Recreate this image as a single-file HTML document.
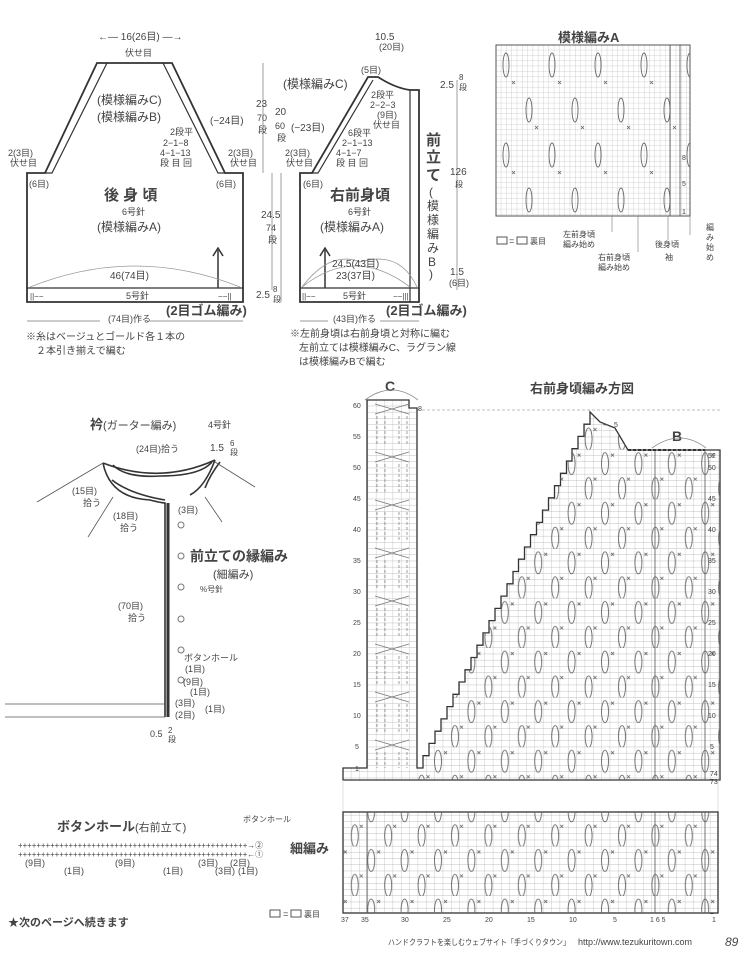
<!DOCTYPE html>
<html><head><meta charset="utf-8"><style>
html,body{margin:0;padding:0;background:#fff}
svg{display:block}
text{font-family:"Liberation Sans","Noto Sans CJK JP",sans-serif;fill:#444}
</style></head><body>
<svg width="750" height="963" viewBox="0 0 750 963" xmlns="http://www.w3.org/2000/svg">
<defs>
<pattern id="g" x="343" y="400" width="8.35" height="6.2" patternUnits="userSpaceOnUse">
<rect width="8.35" height="6.2" fill="#fff"/><path d="M8.35 0V6.2M0 6.2H8.35" stroke="#aaa" stroke-width="0.6" fill="none"/></pattern>
<pattern id="ov" x="430" y="400" width="33.4" height="49.6" patternUnits="userSpaceOnUse">
<ellipse cx="8" cy="14" rx="3.5" ry="11" fill="none" stroke="#666" stroke-width="0.9"/>
<ellipse cx="25" cy="39" rx="3.5" ry="11" fill="none" stroke="#666" stroke-width="0.9"/>
<path d="M14 4l3 3M17 4l-3 3M30 28l3 3M33 28l-3 3" stroke="#666" stroke-width="0.8"/></pattern>
<pattern id="ga" x="496" y="45" width="5.3" height="5.3" patternUnits="userSpaceOnUse">
<rect width="5.3" height="5.3" fill="#fff"/><path d="M5.3 0V5.3M0 5.3H5.3" stroke="#aaa" stroke-width="0.5" fill="none"/></pattern>
<pattern id="ova" x="496" y="45" width="46" height="90" patternUnits="userSpaceOnUse">
<ellipse cx="10" cy="20" rx="3" ry="12" fill="none" stroke="#666" stroke-width="0.9"/>
<ellipse cx="33" cy="65" rx="3" ry="12" fill="none" stroke="#666" stroke-width="0.9"/>
<path d="M16 36l3 3M19 36l-3 3M39 81l3 3M42 81l-3 3" stroke="#666" stroke-width="0.8"/></pattern>
<pattern id="cx" x="367" y="400" width="50" height="48" patternUnits="userSpaceOnUse">
<path d="M8 4L42 14M8 14L42 4" stroke="#777" stroke-width="0.9" fill="none"/>
<path d="M10 16V44M40 16V44M18 16V44M32 16V44" stroke="#888" stroke-width="0.8" stroke-dasharray="3 2" fill="none"/></pattern>
</defs>

<!-- BACK -->
<g stroke="#333" stroke-width="1.8" fill="none">
<path d="M27 173H45L97 63H172L225 173H243V302H27Z"/>
<path d="M45 173H52L107 63M225 173H218L163 63" stroke-width="1.2"/>
<path d="M27 288H243" stroke-width="1.2"/>
<path d="M218 288V250" stroke-width="1.5"/>
</g>
<path d="M213 256L218 248L223 256" fill="none" stroke="#333" stroke-width="1.5"/>
<path d="M30 287Q135 245 240 287" fill="none" stroke="#999" stroke-width="0.8"/>
<text x="98" y="40" font-size="10">←— 16(26目) —→</text>
<text x="125" y="56" font-size="9">伏せ目</text>
<text x="97" y="104" font-size="12">(模様編みC)</text>
<text x="97" y="121" font-size="12">(模様編みB)</text>
<text x="210" y="124" font-size="10">(−24目)</text>
<text x="170" y="135" font-size="9">2段平</text>
<text x="163" y="146" font-size="9">2−1−8</text>
<text x="160" y="156" font-size="9">4−1−13</text>
<text x="160" y="166" font-size="9">段 目 回</text>
<text x="8" y="156" font-size="9">2(3目)</text><text x="10" y="166" font-size="9">伏せ目</text>
<text x="228" y="156" font-size="9">2(3目)</text><text x="230" y="166" font-size="9">伏せ目</text>
<text x="29" y="187" font-size="9">(6目)</text><text x="216" y="187" font-size="9">(6目)</text>
<text x="104" y="200" font-size="15" font-weight="bold" fill="#333">後 身 頃</text>
<text x="122" y="215" font-size="9">6号針</text>
<text x="97" y="231" font-size="12">(模様編みA)</text>
<text x="110" y="279" font-size="10">46(74目)</text>
<text x="126" y="299" font-size="9">5号針</text>
<text x="30" y="299" font-size="8">||−−</text><text x="218" y="299" font-size="8">−−||</text>
<text x="166" y="315" font-size="13" font-weight="bold" fill="#333">(2目ゴム編み)</text>
<text x="108" y="322" font-size="9">(74目)作る</text>
<path d="M27 321H100M150 321H243" stroke="#777" stroke-width="0.7"/>
<text x="26" y="340" font-size="10">※糸はベージュとゴールド各１本の</text>
<text x="36" y="354" font-size="10">２本引き揃えで編む</text>

<!-- middle dims -->
<g stroke="#777" stroke-width="0.7"><path d="M263 63V173M281 173V302M272 173V290"/></g>
<text x="256" y="107" font-size="10">23</text><text x="257" y="121" font-size="9">70</text><text x="258" y="133" font-size="9">段</text>
<text x="275" y="115" font-size="10">20</text><text x="275" y="129" font-size="9">60</text><text x="277" y="141" font-size="9">段</text>
<text x="291" y="131" font-size="10">(−23目)</text>
<text x="261" y="218" font-size="10">24.5</text><text x="266" y="231" font-size="9">74</text><text x="268" y="243" font-size="9">段</text>
<text x="256" y="298" font-size="10">2.5</text><text x="273" y="292" font-size="8">8</text><text x="273" y="302" font-size="8">段</text>

<!-- FRONT -->
<g stroke="#333" stroke-width="1.8" fill="none">
<path d="M300 173H312L368 77H378Q395 88 410 90H419V302H300Z"/>
<path d="M312 173H318L373 80" stroke-width="1.2"/>
<path d="M410 90V302M300 288H419" stroke-width="1.2"/>
<path d="M325 288V250" stroke-width="1.5"/>
</g>
<path d="M320 256L325 248L330 256" fill="none" stroke="#333" stroke-width="1.5"/>
<path d="M302 287Q330 250 360 262M302 287Q355 245 410 287M360 262Q400 250 417 287" fill="none" stroke="#999" stroke-width="0.8"/>
<text x="375" y="40" font-size="10">10.5</text><text x="379" y="50" font-size="9">(20目)</text>
<text x="361" y="73" font-size="9">(5目)</text>
<text x="283" y="88" font-size="12">(模様編みC)</text>
<text x="371" y="98" font-size="9">2段平</text>
<text x="370" y="108" font-size="9">2−2−3</text>
<text x="377" y="118" font-size="9">(9目)</text>
<text x="373" y="128" font-size="9">伏せ目</text>
<text x="348" y="136" font-size="9">6段平</text>
<text x="342" y="146" font-size="9">2−1−13</text>
<text x="336" y="156" font-size="9">4−1−7</text>
<text x="336" y="166" font-size="9">段 目 回</text>
<text x="285" y="156" font-size="9">2(3目)</text><text x="286" y="166" font-size="9">伏せ目</text>
<text x="303" y="187" font-size="9">(6目)</text>
<text x="330" y="200" font-size="15" font-weight="bold" fill="#333">右前身頃</text>
<text x="348" y="215" font-size="9">6号針</text>
<text x="320" y="231" font-size="12">(模様編みA)</text>
<text x="332" y="267" font-size="10">24.5(43目)</text>
<text x="336" y="279" font-size="10">23(37目)</text>
<text x="343" y="299" font-size="9">5号針</text>
<text x="302" y="299" font-size="8">||−−</text><text x="393" y="299" font-size="8">−−|||</text>
<text x="386" y="315" font-size="13" font-weight="bold" fill="#333">(2目ゴム編み)</text>
<text x="333" y="322" font-size="9">(43目)作る</text>
<path d="M300 321H328M380 321H419" stroke="#777" stroke-width="0.7"/>
<g font-size="15" font-weight="bold" fill="#333"><text x="426" y="145">前</text><text x="426" y="162">立</text><text x="426" y="180">て</text></g>
<g font-size="12"><text x="429" y="196">(</text><text x="427" y="210">模</text><text x="427" y="224">様</text><text x="427" y="238">編</text><text x="427" y="252">み</text><text x="428" y="266">B</text><text x="429" y="278">)</text></g>
<path d="M457 80V290" stroke="#777" stroke-width="0.7"/>
<text x="440" y="88" font-size="10">2.5</text><text x="459" y="80" font-size="8">8</text><text x="459" y="90" font-size="8">段</text>
<text x="450" y="175" font-size="10">126</text><text x="455" y="187" font-size="8">段</text>
<text x="450" y="275" font-size="10">1.5</text><text x="449" y="286" font-size="9">(6目)</text>
<text x="290" y="337" font-size="10">※左前身頃は右前身頃と対称に編む</text>
<text x="299" y="351" font-size="10">左前立ては模様編みC、ラグラン線</text>
<text x="299" y="365" font-size="10">は模様編みBで編む</text>

<!-- Chart A -->
<text x="558" y="42" font-size="13" font-weight="bold" fill="#333">模様編みA</text>
<rect x="496" y="45" width="194" height="171" fill="url(#ga)" stroke="#555"/>
<rect x="496" y="45" width="194" height="171" fill="url(#ova)"/>
<path d="M670 45V216M680 45V216" stroke="#555" stroke-width="0.8"/>
<text x="682" y="160" font-size="7">8</text><text x="682" y="186" font-size="7">5</text><text x="682" y="214" font-size="7">1</text>
<rect x="497" y="237" width="10" height="7" fill="none" stroke="#555"/><text x="509" y="244" font-size="9">=</text>
<rect x="517" y="237" width="10" height="7" fill="none" stroke="#555"/><text x="530" y="244" font-size="8">裏目</text>
<text x="563" y="237" font-size="8">左前身頃</text><text x="563" y="247" font-size="8">編み始め</text>
<text x="598" y="260" font-size="8">右前身頃</text><text x="598" y="270" font-size="8">編み始め</text>
<text x="655" y="247" font-size="8">後身頃</text><text x="665" y="260" font-size="8">袖</text>
<text x="706" y="230" font-size="8">編</text><text x="706" y="240" font-size="8">み</text><text x="706" y="250" font-size="8">始</text><text x="706" y="260" font-size="8">め</text>
<path d="M612 216V232M638 216V252M668 216V240M690 216V235" stroke="#777" stroke-width="0.6"/>

<!-- Collar -->
<text x="90" y="429" font-size="13" font-weight="bold" fill="#333">衿<tspan font-size="11" font-weight="normal">(ガーター編み)</tspan></text>
<text x="208" y="428" font-size="9">4号針</text>
<text x="136" y="452" font-size="9">(24目)拾う</text>
<text x="210" y="451" font-size="10">1.5</text><text x="230" y="446" font-size="8">6</text><text x="230" y="455" font-size="8">段</text>
<g stroke="#333" fill="none" stroke-width="1.6">
<path d="M103 463Q110 498 150 500Q162 503 165 503V717"/>
<path d="M113 465Q125 478 160 476Q200 476 212 462"/>
<path d="M103 463Q160 485 215 460M112 480Q130 494 165 500"/>
<path d="M190 495Q205 487 215 460M205 488Q210 475 220 462"/>
<path d="M168 503V717" stroke-width="3"/>
</g>
<path d="M37 502L103 463M215 462L255 487M88 537L113 497M205 497L222 522M5 704H165M5 717H165" stroke="#555" stroke-width="0.8" fill="none"/>
<text x="72" y="494" font-size="9">(15目)</text><text x="83" y="506" font-size="9">拾う</text>
<text x="113" y="519" font-size="9">(18目)</text><text x="120" y="531" font-size="9">拾う</text>
<text x="178" y="513" font-size="9">(3目)</text>
<g fill="none" stroke="#777"><circle cx="181" cy="525" r="3"/><circle cx="181" cy="556" r="3"/><circle cx="181" cy="587" r="3"/><circle cx="181" cy="619" r="3"/><circle cx="181" cy="650" r="3"/><circle cx="181" cy="680" r="3"/></g>
<text x="190" y="561" font-size="14" font-weight="bold" fill="#333">前立ての縁編み</text>
<text x="213" y="578" font-size="11">(細編み)</text>
<text x="200" y="592" font-size="8">%号針</text>
<text x="118" y="609" font-size="9">(70目)</text><text x="128" y="621" font-size="9">拾う</text>
<text x="184" y="661" font-size="9">ボタンホール</text>
<text x="185" y="672" font-size="9">(1目)</text>
<text x="183" y="685" font-size="9">(9目)</text>
<text x="190" y="695" font-size="9">(1目)</text>
<text x="175" y="706" font-size="9">(3目)</text><text x="205" y="712" font-size="9">(1目)</text>
<text x="175" y="718" font-size="9">(2目)</text>
<text x="150" y="737" font-size="9">0.5</text><text x="168" y="733" font-size="8">2</text><text x="168" y="742" font-size="8">段</text>

<!-- Button hole -->
<text x="57" y="831" font-size="13" font-weight="bold" fill="#333">ボタンホール<tspan font-size="11" font-weight="normal">(右前立て)</tspan></text>
<text x="243" y="822" font-size="8">ボタンホール</text>
<text x="18" y="848" font-size="8" textLength="245" lengthAdjust="spacingAndGlyphs">++++++++++++++++++++++++++++++++++++++++++++++++++→②</text>
<text x="18" y="857" font-size="8" textLength="245" lengthAdjust="spacingAndGlyphs">++++++++++++++++++++++++++++++++++++++++++++++++++←①</text>
<text x="290" y="853" font-size="13" font-weight="bold" fill="#333">細編み</text>
<text x="25" y="866" font-size="9">(9目)</text><text x="115" y="866" font-size="9">(9目)</text><text x="198" y="866" font-size="9">(3目)</text><text x="230" y="866" font-size="9">(2目)</text>
<text x="64" y="874" font-size="9">(1目)</text><text x="163" y="874" font-size="9">(1目)</text><text x="215" y="874" font-size="9">(3目)</text><text x="238" y="874" font-size="9">(1目)</text>
<text x="8" y="926" font-size="11" font-weight="bold" fill="#333">★次のページへ続きます</text>

<!-- Big chart -->
<text x="530" y="393" font-size="13" font-weight="bold" fill="#333">右前身頃編み方図</text>
<text x="385" y="391" font-size="14" font-weight="bold" fill="#333">C</text>
<text x="672" y="441" font-size="14" font-weight="bold" fill="#333">B</text>
<path d="M365 400Q392 380 418 400M652 448Q680 428 706 448" fill="none" stroke="#888" stroke-width="0.8"/>
<path d="M417 410H720" stroke="#aaa" stroke-dasharray="3 2" stroke-width="0.8"/>
<path d="M367 400H409V408H417V768H423V755.7H429V743.4H435V731.2H441V718.9H447V706.6H453V694.3H459V682H465V669.8H471V657.5H477V645.2H483V632.9H489V620.6H495V608.4H501V596.1H507V583.8H513V571.5H518.5V559.2H524.5V547H530.5V534.7H536.5V522.4H542.5V510.1H548.5V497.8H554.5V485.6H560.5V473.3H566.5V461H572V448.7H578V436.4H584V424.2H590V412L600 422L615 428L628 450H720V780H343V768H367Z" fill="url(#g)" stroke="#333" stroke-width="1.3"/>
<path d="M417 768H423V755.7H429V743.4H435V731.2H441V718.9H447V706.6H453V694.3H459V682H465V669.8H471V657.5H477V645.2H483V632.9H489V620.6H495V608.4H501V596.1H507V583.8H513V571.5H518.5V559.2H524.5V547H530.5V534.7H536.5V522.4H542.5V510.1H548.5V497.8H554.5V485.6H560.5V473.3H566.5V461H572V448.7H578V436.4H584V424.2H590V412L600 422L615 428L628 450H720V780H417Z" fill="url(#ov)"/>
<rect x="367" y="400" width="50" height="368" fill="url(#cx)"/>
<path d="M655 450V780M705 450V780" stroke="#555" stroke-width="0.8"/>
<path d="M628 450H705" stroke="#333" stroke-width="2" stroke-dasharray="3 2"/>
<g font-size="7" fill="#666">
<text x="353" y="408">60</text><text x="353" y="439">55</text><text x="353" y="470">50</text><text x="353" y="501">45</text><text x="353" y="532">40</text><text x="353" y="563">35</text><text x="353" y="594">30</text><text x="353" y="625">25</text><text x="353" y="656">20</text><text x="353" y="687">15</text><text x="353" y="718">10</text><text x="355" y="749">5</text><text x="355" y="771">1</text>
<text x="708" y="458">52</text><text x="708" y="470">50</text><text x="708" y="501">45</text><text x="708" y="532">40</text><text x="708" y="563">35</text><text x="708" y="594">30</text><text x="708" y="625">25</text><text x="708" y="656">20</text><text x="708" y="687">15</text><text x="708" y="718">10</text><text x="710" y="749">5</text><text x="710" y="776">74</text><text x="710" y="784">73</text>
<text x="418" y="411">8</text><text x="614" y="427">5</text>
<text x="708" y="822">16</text><text x="708" y="830">15</text><text x="708" y="860">10</text><text x="710" y="891">5</text><text x="710" y="914">1</text>
<text x="341" y="922">37</text><text x="361" y="922">35</text><text x="401" y="922">30</text><text x="443" y="922">25</text><text x="485" y="922">20</text><text x="527" y="922">15</text><text x="569" y="922">10</text><text x="613" y="922">5</text><text x="650" y="922">1 6 5</text><text x="712" y="922">1</text>
</g>
<path d="M343 780V812M718 780V812" stroke="#ccc" stroke-width="0.6"/>
<rect x="343" y="812" width="375" height="101" fill="url(#g)" stroke="#333" stroke-width="1.3"/>
<rect x="343" y="812" width="375" height="101" fill="url(#ov)"/>
<path d="M655 812V913M705 812V913M367 812V913" stroke="#555" stroke-width="0.8"/>
<rect x="270" y="910" width="10" height="7" fill="none" stroke="#555"/><text x="283" y="917" font-size="9">=</text>
<rect x="291" y="910" width="10" height="7" fill="none" stroke="#555"/><text x="304" y="917" font-size="8">裏目</text>
<text x="388" y="945" font-size="8" textLength="182" lengthAdjust="spacingAndGlyphs">ハンドクラフトを楽しむウェブサイト「手づくりタウン」</text>
<text x="578" y="945" font-size="9">http://www.tezukuritown.com</text>
<text x="725" y="946" font-size="12" font-style="italic">89</text>
</svg>
</body></html>
